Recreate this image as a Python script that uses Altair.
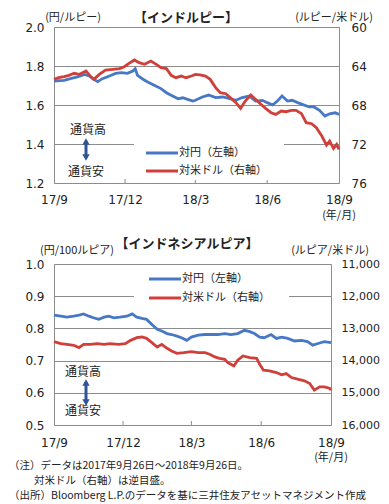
import altair as alt
import pandas as pd

FONT = "DejaVu Sans, Noto Sans CJK JP, sans-serif"
JFONT = "Noto Sans CJK JP, sans-serif"
BLUE = "#4778C6"
RED = "#D13F3A"
ARROW = "#2F5597"
GRID = "#8C8C8C"
TXT = "#222222"

S1 = "対円（左軸）"
S2 = "対米ドル（右軸）"

# ---- India rupee: yen per rupee (left axis) ----
inr_jpy_dates = ["2017-09-26", "2017-10-09", "2017-10-17", "2017-10-26", "2017-11-04",
                 "2017-11-10", "2017-11-16", "2017-11-21", "2017-11-27", "2017-12-06",
                 "2017-12-14", "2017-12-21", "2017-12-29", "2018-01-05", "2018-01-08",
                 "2018-01-11", "2018-01-18", "2018-01-24", "2018-02-02", "2018-02-10",
                 "2018-02-17", "2018-02-23", "2018-03-04", "2018-03-10", "2018-03-16",
                 "2018-03-23", "2018-03-26", "2018-04-04", "2018-04-12", "2018-04-21",
                 "2018-04-30", "2018-05-08", "2018-05-17", "2018-05-25", "2018-06-03",
                 "2018-06-11", "2018-06-20", "2018-06-26", "2018-07-03", "2018-07-09",
                 "2018-07-15", "2018-07-22", "2018-07-28", "2018-08-04", "2018-08-10",
                 "2018-08-19", "2018-08-25", "2018-09-01", "2018-09-08", "2018-09-14",
                 "2018-09-21", "2018-09-26"]
inr_jpy = [1.723, 1.726, 1.735, 1.744, 1.757, 1.749, 1.732, 1.720, 1.735, 1.749,
           1.762, 1.766, 1.762, 1.774, 1.786, 1.752, 1.732, 1.718, 1.700, 1.684,
           1.663, 1.650, 1.632, 1.637, 1.629, 1.620, 1.624, 1.641, 1.651, 1.638,
           1.641, 1.634, 1.624, 1.638, 1.646, 1.620, 1.624, 1.612, 1.600, 1.620,
           1.646, 1.620, 1.624, 1.612, 1.603, 1.590, 1.590, 1.573, 1.543, 1.555,
           1.560, 1.552]

# ---- India rupee: rupee per US dollar (right axis, inverted) ----
inr_usd_dates = ["2017-09-26", "2017-10-02", "2017-10-09", "2017-10-15", "2017-10-22",
                 "2017-10-28", "2017-11-06", "2017-11-12", "2017-11-16", "2017-11-23",
                 "2017-12-01", "2017-12-10", "2017-12-19", "2017-12-25", "2017-12-31",
                 "2018-01-07", "2018-01-13", "2018-01-20", "2018-01-28", "2018-02-04",
                 "2018-02-10", "2018-02-17", "2018-02-23", "2018-03-01", "2018-03-08",
                 "2018-03-14", "2018-03-21", "2018-03-26", "2018-04-01", "2018-04-08",
                 "2018-04-14", "2018-04-21", "2018-04-27", "2018-05-04", "2018-05-10",
                 "2018-05-17", "2018-05-23", "2018-05-29", "2018-06-05", "2018-06-11",
                 "2018-06-18", "2018-06-24", "2018-07-01", "2018-07-07", "2018-07-14",
                 "2018-07-20", "2018-07-27", "2018-08-02", "2018-08-09", "2018-08-15",
                 "2018-08-22", "2018-08-28", "2018-09-04", "2018-09-10", "2018-09-14",
                 "2018-09-19", "2018-09-23", "2018-09-26"]
inr_usd = [65.37, 65.20, 65.09, 64.96, 64.75, 64.86, 64.51, 65.09, 65.37, 64.86,
           64.41, 64.34, 64.27, 64.07, 63.73, 63.38, 63.66, 63.83, 63.49, 63.83,
           64.17, 64.27, 64.96, 65.20, 65.03, 65.20, 65.03, 64.86, 64.92, 65.03,
           65.37, 66.22, 66.74, 66.84, 67.25, 67.76, 68.34, 67.59, 66.98, 67.42,
           67.93, 68.34, 68.79, 68.96, 68.62, 68.69, 68.55, 68.55, 68.89, 69.81,
           69.92, 70.33, 71.18, 72.11, 71.70, 72.45, 72.04, 72.55]

# ---- Indonesia rupiah: yen per 100 rupiah (left axis) ----
idr_jpy_dates = ["2017-09-26", "2017-10-05", "2017-10-13", "2017-10-22", "2017-10-29",
                 "2017-11-04", "2017-11-11", "2017-11-17", "2017-11-24", "2017-12-01",
                 "2017-12-07", "2017-12-14", "2017-12-22", "2017-12-31", "2018-01-07",
                 "2018-01-13", "2018-01-20", "2018-01-26", "2018-02-02", "2018-02-09",
                 "2018-02-15", "2018-02-22", "2018-02-28", "2018-03-07", "2018-03-13",
                 "2018-03-20", "2018-03-26", "2018-04-04", "2018-04-13", "2018-04-21",
                 "2018-04-30", "2018-05-09", "2018-05-17", "2018-05-26", "2018-06-04",
                 "2018-06-11", "2018-06-17", "2018-06-24", "2018-06-30", "2018-07-09",
                 "2018-07-16", "2018-07-23", "2018-07-31", "2018-08-09", "2018-08-18",
                 "2018-08-26", "2018-09-02", "2018-09-09", "2018-09-17", "2018-09-26"]
idr_jpy = [0.841, 0.838, 0.835, 0.838, 0.841, 0.845, 0.838, 0.833, 0.828, 0.835,
           0.838, 0.833, 0.835, 0.838, 0.845, 0.835, 0.831, 0.828, 0.812, 0.797,
           0.792, 0.784, 0.781, 0.776, 0.771, 0.763, 0.773, 0.779, 0.781, 0.781,
           0.781, 0.784, 0.781, 0.784, 0.794, 0.790, 0.784, 0.773, 0.771, 0.781,
           0.769, 0.773, 0.769, 0.761, 0.763, 0.759, 0.748, 0.753, 0.759, 0.756]

# ---- Indonesia rupiah: rupiah per US dollar (right axis, inverted) ----
idr_usd_dates = ["2017-09-26", "2017-10-05", "2017-10-13", "2017-10-22", "2017-10-29",
                 "2017-11-04", "2017-11-13", "2017-11-22", "2017-12-01", "2017-12-09",
                 "2017-12-20", "2017-12-29", "2018-01-05", "2018-01-13", "2018-01-20",
                 "2018-01-26", "2018-02-02", "2018-02-09", "2018-02-15", "2018-02-22",
                 "2018-02-28", "2018-03-07", "2018-03-16", "2018-03-26", "2018-04-04",
                 "2018-04-13", "2018-04-19", "2018-04-26", "2018-05-02", "2018-05-09",
                 "2018-05-13", "2018-05-21", "2018-05-26", "2018-06-02", "2018-06-11",
                 "2018-06-20", "2018-06-24", "2018-06-29", "2018-07-07", "2018-07-16",
                 "2018-07-23", "2018-07-29", "2018-08-05", "2018-08-13", "2018-08-22",
                 "2018-08-29", "2018-09-04", "2018-09-11", "2018-09-17", "2018-09-24",
                 "2018-09-26"]
idr_usd = [13412, 13474, 13495, 13526, 13598, 13495, 13495, 13474, 13495, 13474,
           13495, 13474, 13371, 13289, 13268, 13309, 13443, 13577, 13495, 13619,
           13701, 13773, 13753, 13722, 13753, 13753, 13804, 13887, 13928, 13959,
           14062, 14165, 13990, 13856, 13907, 13928, 14113, 14299, 14320, 14371,
           14443, 14402, 14526, 14577, 14629, 14711, 14918, 14814, 14814, 14856,
           14918]

x_tick_dates = [(2017, 9, 26), (2017, 12, 26), (2018, 3, 26), (2018, 6, 26), (2018, 9, 26)]
inner_tick_dates = ["2017-12-26", "2018-03-26", "2018-06-26"]

inr_left_ticks = [1.2, 1.4, 1.6, 1.8, 2.0]
inr_right_ticks = [60, 64, 68, 72, 76]
idr_left_ticks = [0.5, 0.6, 0.7, 0.8, 0.9, 1.0]
idr_right_ticks = [11000, 12000, 13000, 14000, 15000, 16000]


def dt(t):
    return alt.DateTime(year=t[0], month=t[1], date=t[2], utc=True)


one = pd.DataFrame({"k": [0]})


def txt(s, x, y, size=11, align="center", weight="normal", font=JFONT):
    return alt.Chart(pd.DataFrame({"t": [s]})).mark_text(
        align=align, baseline="middle", fontSize=size, fontWeight=weight,
        font=font, color=TXT).encode(x=alt.value(x), y=alt.value(y), text="t:N")


def arrow(x, y_top, y_bot):
    shaft = alt.Chart(one).mark_rule(color=ARROW, strokeWidth=3).encode(
        x=alt.value(x), y=alt.value(y_top + 3), y2=alt.value(y_bot - 3))
    up = alt.Chart(one).mark_point(shape="triangle-up", filled=True, size=55,
                                   color=ARROW, opacity=1).encode(
        x=alt.value(x), y=alt.value(y_top + 3.5))
    dn = alt.Chart(one).mark_point(shape="triangle-down", filled=True, size=55,
                                   color=ARROW, opacity=1).encode(
        x=alt.value(x), y=alt.value(y_bot - 3.5))
    return [shaft, up, dn]


def legend_box(x0, x1, y0, y1):
    return alt.Chart(one).mark_rect(color="white", opacity=1).encode(
        x=alt.value(x0), x2=alt.value(x1), y=alt.value(y0), y2=alt.value(y1))


def legend_items(sx, y_a, y_b):
    out = []
    for label, col, yy in [(S1, BLUE, y_a), (S2, RED, y_b)]:
        out.append(alt.Chart(one).mark_rule(color=col, strokeWidth=3).encode(
            x=alt.value(sx), x2=alt.value(sx + 32), y=alt.value(yy)))
        out.append(txt(label, sx + 33, yy, size=11, align="left"))
    return out


def panel(jdates, jvals, udates, uvals, W, H, ldom, lticks, lfmt, rdom, rticks, rfmt,
          rlabsize, rlabpad, box, items, texts, arr, xlabpad):
    df = pd.concat([
        pd.DataFrame({"date": jdates, "value": jvals, "series": S1}),
        pd.DataFrame({"date": udates, "value": uvals, "series": S2}),
    ])
    x = alt.X("date:T",
              scale=alt.Scale(type="utc", domain=[dt(x_tick_dates[0]), dt(x_tick_dates[-1])]),
              axis=alt.Axis(values=[dt(t) for t in x_tick_dates],
                            labelExpr="utcFormat(datum.value, '%y/%-m')",
                            title=None, ticks=False, domain=False,
                            grid=False, labelPadding=xlabpad, labelFont=FONT,
                            labelFontSize=12, labelColor=TXT, labelFlush=False,
                            labelOverlap=False, labelBound=False))
    base = alt.Chart(df)
    left = base.transform_filter(alt.datum.series == S1).mark_line(
        strokeWidth=2.8, color=BLUE).encode(
        x=x,
        y=alt.Y("value:Q", scale=alt.Scale(domain=ldom, nice=False, zero=False),
                axis=alt.Axis(values=lticks, format=lfmt, title=None, ticks=False,
                              domain=False, grid=True, gridColor=GRID, gridWidth=1,
                              gridOpacity=1, labelPadding=10, labelFont=FONT,
                              labelFontSize=12, labelColor=TXT)))
    right = base.transform_filter(alt.datum.series == S2).mark_line(
        strokeWidth=2.8, color=RED).encode(
        x=x,
        y=alt.Y("value:Q", scale=alt.Scale(domain=rdom, nice=False, zero=False,
                                           reverse=True),
                axis=alt.Axis(orient="right", values=rticks, format=rfmt, title=None,
                              ticks=False, domain=False, grid=False, labelPadding=rlabpad,
                              labelFont=FONT, labelFontSize=rlabsize, labelColor=TXT)))
    ticks = alt.Chart(pd.DataFrame({"date": inner_tick_dates})).mark_rule(
        color=GRID, strokeWidth=1).encode(
        x=x, y=alt.value(H - 4), y2=alt.value(H))
    layers = [ticks, left, right, box] + items + arr + texts
    return alt.layer(*layers).resolve_scale(y="independent").properties(
        width=W, height=H)


W1, H1 = 285, 156
top_texts = [
    txt("【インドルピー】", 132, -9, size=13, weight="bold"),
    txt("(円/ルピー)", 19, -9.5, size=11),
    txt("(ルピー/米ドル)", 280, -9.5, size=11),
    txt("(年/月)", 285, 189, size=11),
    txt("通貨高", 34, 103, size=12),
    txt("通貨安", 32, 145, size=12),
]
top = panel(inr_jpy_dates, inr_jpy, inr_usd_dates, inr_usd, W1, H1,
            [1.2, 2.0], inr_left_ticks, ".1f", [60, 76], inr_right_ticks, "d", 12, 12,
            legend_box(80, 230, 113, 153), legend_items(92, 126, 144),
            top_texts, arrow(32, 111, 134), 11)

W2, H2 = 277, 161
bot_texts = [
    txt("【インドネシアルピア】", 133, -20, size=13, weight="bold"),
    txt("(円/100ルピア)", 23, -13, size=11),
    txt("(ルピア/米ドル)", 276, -13, size=11),
    txt("(年/月)", 277, 194, size=11),
    txt("通貨高", 29, 108, size=12),
    txt("通貨安", 29, 147, size=12),
    txt("（注）データは2017年9月26日～2018年9月26日。", -45, 202, size=10.5, align="left"),
    txt("対米ドル（右軸）は逆目盛。", -20, 217, size=10.5, align="left"),
    txt("（出所）Bloomberg L.P.のデータを基に三井住友アセットマネジメント作成", -45, 232,
        size=10.5, align="left"),
]
bottom = panel(idr_jpy_dates, idr_jpy, idr_usd_dates, idr_usd, W2, H2,
               [0.5, 1.0], idr_left_ticks, ".1f", [11000, 16000], idr_right_ticks, ",d", 11, 10,
               legend_box(80, 235, 5, 45), legend_items(95, 15, 34),
               bot_texts, arrow(32, 115, 142), 12)

chart = alt.vconcat(top, bottom, spacing=81, bounds="flush").properties(
    padding={"top": 3, "left": 0, "right": 0, "bottom": 0}
).configure_view(stroke=GRID, strokeWidth=1)

chart.save("out.html", embed_options={"renderer": "svg", "actions": False})
